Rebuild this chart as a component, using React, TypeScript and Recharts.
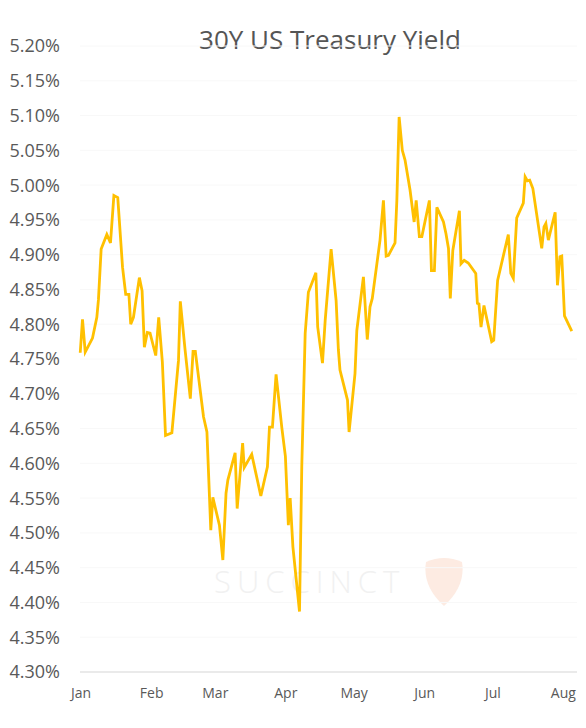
import React from "react";
import { LineChart, Line, XAxis, YAxis, CartesianGrid } from "recharts";

// x = days since Jan 1, y = yield in %
const days = [
  -0.4, 0.6, 1.8, 5.0, 6.9, 7.6, 8.8, 11.3, 12.9, 14.4, 16.1, 18.2, 19.6, 21.0, 21.8, 23.0,
  25.6, 26.8, 27.8, 29.1, 30.3, 32.8, 34.1, 35.7, 37.1, 39.9, 41.6, 42.8, 43.6, 45.7, 48.0,
  49.2, 50.2, 53.8, 55.3, 57.0, 57.9, 60.8, 62.3, 63.7, 64.5, 67.7, 68.6, 71.0, 71.7, 75.0,
  79.0, 81.9, 82.8, 84.1, 85.7, 88.2, 89.8, 91.1, 91.9, 93.1, 96.0, 97.0, 98.5, 99.9, 103.2,
  104.0, 106.1, 107.3, 109.9, 112.1, 113.1, 113.8, 117.1, 117.8, 120.4, 121.2, 124.1, 125.8,
  127.0, 128.0, 131.4, 132.9, 134.1, 135.1, 138.0, 138.8, 139.8, 141.2, 142.4, 144.6, 146.4,
  147.3, 148.7, 149.8, 153.1, 154.0, 155.3, 156.4, 159.3, 160.4, 161.5, 162.3, 163.4, 166.3,
  167.0, 168.4, 170.2, 173.5, 174.2, 174.9, 175.8, 177.1, 180.5, 181.4, 183.1, 187.8, 188.9,
  190.0, 191.5, 194.4, 195.2, 196.2, 197.2, 198.6, 202.5, 203.5, 204.3, 205.4, 208.4, 209.4,
  210.5, 211.3, 212.5, 215.7,
];
const yields = [
  4.759, 4.807, 4.76, 4.78, 4.81, 4.835, 4.908, 4.929, 4.917, 4.985, 4.982, 4.882, 4.843, 4.843,
  4.8, 4.81, 4.867, 4.848, 4.767, 4.788, 4.787, 4.755, 4.81, 4.746, 4.64, 4.644, 4.705, 4.748,
  4.833, 4.763, 4.693, 4.761, 4.761, 4.667, 4.645, 4.504, 4.551, 4.511, 4.461, 4.557, 4.576,
  4.615, 4.535, 4.629, 4.594, 4.613, 4.553, 4.595, 4.652, 4.652, 4.728, 4.652, 4.61, 4.511,
  4.55, 4.48, 4.387, 4.595, 4.787, 4.846, 4.874, 4.796, 4.744, 4.806, 4.908, 4.834, 4.763,
  4.734, 4.691, 4.645, 4.729, 4.791, 4.868, 4.778, 4.825, 4.837, 4.921, 4.978, 4.898, 4.899,
  4.917, 4.978, 5.098, 5.05, 5.036, 4.993, 4.947, 4.978, 4.926, 4.926, 4.978, 4.877, 4.877,
  4.968, 4.947, 4.93, 4.909, 4.837, 4.906, 4.963, 4.887, 4.892, 4.888, 4.873, 4.83, 4.829,
  4.796, 4.827, 4.775, 4.777, 4.863, 4.929, 4.873, 4.866, 4.953, 4.974, 5.012, 5.006, 5.007,
  4.995, 4.909, 4.94, 4.945, 4.921, 4.961, 4.856, 4.897, 4.898, 4.812, 4.79,
];

const monthTicks = [0, 31, 59, 90, 120, 151, 181, 212];
const monthLabels = ["Jan", "Feb", "Mar", "Apr", "May", "Jun", "Jul", "Aug"];
const yTicks = [4.3, 4.35, 4.4, 4.45, 4.5, 4.55, 4.6, 4.65, 4.7, 4.75, 4.8, 4.85, 4.9, 4.95, 5.0, 5.05, 5.1, 5.15, 5.2];

const title = "30Y US Treasury Yield";
const watermark = "SUCCINCT";

const data = days.map((d, i) => ({ d, y: yields[i] }));

const FONT = "'Open Sans', sans-serif";

export default function App() {
  return (
    <div style={{ position: "absolute", left: 0, top: 0, width: 586, height: 728, background: "#fff", fontFamily: FONT }}>
      <div
        style={{
          position: "absolute",
          left: 80,
          width: 500,
          top: 21,
          textAlign: "center",
          fontSize: 26,
          color: "#555555",
          fontFamily: FONT,
          lineHeight: "36px",
        }}
      >
        {title}
      </div>
      <div
        style={{
          position: "absolute",
          left: 214,
          top: 560,
          fontSize: 31,
          fontWeight: 300,
          letterSpacing: 6,
          color: "#f1f1f1",
          fontFamily: FONT,
        }}
      >
        {watermark}
      </div>
      <svg style={{ position: "absolute", left: 420, top: 556 }} width="48" height="52">
        <path d="M6 6 Q24 -2 42 6 Q46 30 24 50 Q2 30 6 6 Z" fill="#fdebe2" />
      </svg>
      <LineChart
        width={586}
        height={728}
        data={data}
        margin={{ top: 46, right: 9, bottom: 26, left: 0 }}
        style={{ position: "absolute", left: 0, top: 0 }}
      >
        <CartesianGrid horizontal={true} vertical={false} stroke="#f8f8f8" />
        <XAxis
          dataKey="d"
          type="number"
          domain={[-0.5, 218]}
          ticks={monthTicks}
          tickFormatter={(v: number) => monthLabels[monthTicks.indexOf(v)]}
          axisLine={{ stroke: "#d9d9d9" }}
          tickLine={false}
          tickMargin={10}
          height={30}
          tick={{ fontSize: 14, fill: "#595959", fontFamily: FONT }}
          interval={0}
        />
        <YAxis
          type="number"
          domain={[4.3, 5.2]}
          ticks={yTicks}
          tickFormatter={(v: number) => v.toFixed(2) + "%"}
          axisLine={false}
          tickLine={false}
          width={80}
          tickMargin={14}
          interval={0}
          tick={{ fontSize: 18, fill: "#595959", fontFamily: FONT }}
        />
        <Line
          type="linear"
          dataKey="y"
          stroke="#FFC000"
          strokeWidth={2.8}
          dot={false}
          isAnimationActive={false}
        />
      </LineChart>
    </div>
  );
}
